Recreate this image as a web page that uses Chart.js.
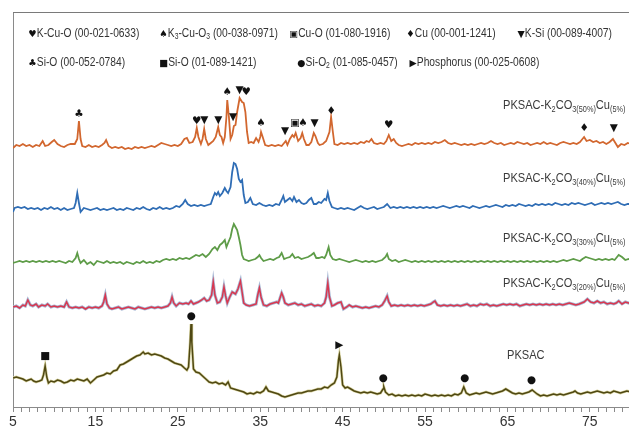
<!DOCTYPE html>
<html>
<head>
<meta charset="utf-8">
<script src="https://cdn.jsdelivr.net/npm/chart.js@4/dist/chart.umd.min.js"></script>
<style>
  html, body { margin: 0; padding: 0; background: #fff; }
  #wrap { position: relative; width: 629px; height: 432px; overflow: hidden; }
  canvas { position: absolute; left: 0; top: 0; }
  .t { position: absolute; white-space: nowrap; font-family: "Liberation Sans Narrow", "Arial Narrow", "Liberation Sans", Arial, sans-serif; color: #333; line-height: 1; transform-origin: 0 50%; transform: scaleX(0.82); }
  .lg { font-size: 12.5px; }
  .sym { font-family: "DejaVu Sans", sans-serif; font-size: 9.5px; color: #111; margin-right: 1px; display: inline-block; transform: scaleX(1.2); }
  .lab { font-size: 13.5px; color: #3a3a3a; }
  .lab sub, .lg sub { font-size: 66%; vertical-align: -0.3em; line-height: 0; }
</style>
</head>
<body>
<div id="wrap">
<canvas id="c" width="629" height="432"></canvas>
</div>
<script>
// ---- Data (2θ in degrees, intensity in arbitrary units incl. vertical offset) ----
const tickLabels = [5, 15, 25, 35, 45, 55, 65, 75];

const seriesNames = [
  "PKSAC-K2CO3(50%)Cu(5%)",
  "PKSAC-K2CO3(40%)Cu(5%)",
  "PKSAC-K2CO3(30%)Cu(5%)",
  "PKSAC-K2CO3(20%)Cu(5%)",
  "PKSAC"
];

const s50X = [5.0,5.4,5.8,6.2,6.6,7.0,7.4,7.8,8.2,8.6,8.9,9.3,9.7,10.0,10.4,10.8,11.2,11.6,12.0,12.5,12.8,13.0,13.2,13.4,13.8,14.2,14.6,15.0,15.4,15.8,16.1,16.3,16.6,17.0,17.4,17.8,18.2,18.6,19.0,19.4,19.8,20.2,20.6,21.0,21.4,21.8,22.2,22.6,23.0,23.4,23.8,24.2,24.6,25.0,25.4,25.8,26.1,26.4,26.8,27.1,27.3,27.5,27.8,28.0,28.2,28.4,28.7,29.0,29.3,29.6,29.9,30.1,30.3,30.5,30.7,30.9,31.0,31.2,31.4,31.6,31.8,32.0,32.2,32.5,32.8,33.0,33.2,33.4,33.6,33.9,34.2,34.5,34.8,35.0,35.1,35.3,35.6,36.0,36.4,36.8,37.2,37.6,37.9,38.1,38.3,38.6,38.9,39.1,39.3,39.6,39.9,40.1,40.3,40.6,40.9,41.2,41.5,41.7,42.0,42.2,42.6,43.0,43.4,43.6,43.8,44.0,44.4,44.8,45.2,45.6,46.0,46.4,46.8,47.2,47.6,47.9,48.2,48.5,48.8,49.2,49.6,50.0,50.3,50.6,50.9,51.2,51.5,51.8,52.2,52.6,53.0,53.4,53.8,54.2,54.6,55.0,55.4,55.8,56.2,56.6,57.0,57.4,57.8,58.2,58.6,59.0,59.4,59.8,60.2,60.6,61.0,61.4,61.8,62.2,62.6,63.0,63.4,63.8,64.2,64.6,65.0,65.4,65.8,66.2,66.6,67.0,67.4,67.8,68.2,68.6,69.0,69.4,69.8,70.2,70.6,71.0,71.4,71.8,72.2,72.6,73.0,73.4,73.8,74.1,74.3,74.6,75.0,75.4,75.8,76.2,76.6,77.0,77.4,77.8,78.1,78.4,78.8,79.2,79.6,80.0];
const s50Y = [259,262,261,263,261,262,260,262,261,266,261,262,265,267,263,261,260,262,263,263,268,286,268,261,260,262,260,261,260,262,264,267,261,259,260,259,260,258,259,258,260,259,260,259,260,261,260,262,264,263,262,261,262,261,263,268,269,264,265,270,279,270,263,268,278,268,262,264,266,270,280,272,270,264,270,290,307,290,268,272,281,282,295,309,305,304,295,275,264,265,264,269,265,270,275,270,262,261,262,261,262,261,264,266,262,268,272,270,274,266,269,274,268,262,262,265,274,271,264,262,263,266,275,290,276,263,262,264,263,264,263,264,263,265,264,266,265,268,264,263,264,263,266,272,266,268,264,262,261,262,263,262,264,263,264,263,264,263,265,264,265,267,264,263,264,263,262,263,262,263,262,263,264,263,264,266,264,263,264,262,263,264,263,265,264,263,264,262,263,264,263,265,263,264,263,262,264,265,264,263,264,263,265,268,270,266,267,265,266,264,265,263,265,268,264,260,263,262,264,263];

const s40X = [5.0,5.2,5.6,6.0,6.4,6.8,7.2,7.6,8.0,8.4,8.8,9.2,9.6,10.0,10.4,10.8,11.2,11.6,12.0,12.4,12.6,12.8,13.0,13.2,13.6,14.0,14.4,14.8,15.2,15.6,16.0,16.4,16.8,17.2,17.6,18.0,18.4,18.8,19.2,19.6,20.0,20.4,20.8,21.2,21.6,22.0,22.4,22.8,23.2,23.6,24.0,24.4,24.8,25.2,25.6,25.9,26.2,26.6,27.0,27.4,27.8,28.2,28.6,29.0,29.3,29.5,29.7,29.9,30.1,30.4,30.7,30.9,31.1,31.4,31.6,31.8,32.0,32.2,32.4,32.6,32.8,33.0,33.2,33.5,33.8,34.1,34.5,34.9,35.3,35.7,36.1,36.5,36.9,37.3,37.6,37.8,38.0,38.3,38.6,38.9,39.1,39.4,39.7,40.0,40.3,40.6,40.9,41.2,41.5,41.8,42.1,42.4,42.8,43.0,43.2,43.4,43.7,44.0,44.4,44.8,45.2,45.6,46.0,46.4,46.8,47.2,47.6,48.0,48.4,48.8,49.2,49.6,50.0,50.4,50.8,51.2,51.6,52.0,52.4,52.8,53.2,53.6,54.0,54.4,54.8,55.2,55.6,56.0,56.4,56.8,57.2,57.6,58.0,58.4,58.8,59.2,59.6,60.0,60.4,60.8,61.2,61.6,62.0,62.4,62.8,63.2,63.6,64.0,64.4,64.8,65.2,65.6,66.0,66.4,66.8,67.2,67.6,68.0,68.4,68.8,69.2,69.6,70.0,70.4,70.8,71.2,71.6,72.0,72.4,72.8,73.2,73.6,74.0,74.4,74.8,75.2,75.6,76.0,76.4,76.8,77.2,77.6,78.0,78.4,78.8,79.2,79.6,80.0];
const s40Y = [195,199,200,199,200,198,199,198,199,197,199,198,200,198,199,197,199,197,198,199,204,214,204,195,199,198,197,198,199,197,198,197,198,199,197,198,197,199,198,197,199,198,200,198,197,199,198,200,198,199,198,199,201,200,203,207,203,201,202,201,202,201,202,203,210,214,212,215,211,214,219,216,214,220,235,244,243,238,228,225,227,212,204,205,209,203,202,204,202,201,202,201,203,202,207,211,205,207,209,206,210,205,207,204,203,204,207,209,203,203,205,204,208,207,214,206,200,199,198,199,198,199,198,197,199,201,199,198,199,200,198,199,200,203,199,200,199,200,199,200,199,200,199,200,199,200,199,200,199,200,201,200,199,200,201,200,201,200,199,201,200,199,200,201,200,201,202,201,200,202,201,202,201,203,202,201,202,201,203,202,203,202,203,202,204,203,202,203,202,204,203,204,203,202,203,204,202,203,204,203,204,203,204,205,203,202,203,203];

const s30X = [5.0,5.4,5.8,6.2,6.6,7.0,7.4,7.8,8.2,8.6,9.0,9.4,9.8,10.2,10.6,11.0,11.4,11.8,12.2,12.6,12.8,13.0,13.2,13.6,14.0,14.4,14.8,15.2,15.6,16.0,16.4,16.8,17.2,17.6,18.0,18.4,18.8,19.2,19.6,20.0,20.4,20.8,21.2,21.6,22.0,22.4,22.8,23.2,23.6,24.0,24.4,24.8,25.2,25.6,26.0,26.4,26.8,27.2,27.6,28.0,28.4,28.8,29.2,29.5,29.8,30.1,30.4,30.7,30.9,31.1,31.4,31.6,31.8,32.0,32.2,32.4,32.6,32.8,33.0,33.3,33.6,34.0,34.4,34.7,34.9,35.1,35.4,35.8,36.2,36.6,37.0,37.3,37.6,37.9,38.2,38.6,38.9,39.2,39.6,40.0,40.4,40.8,41.2,41.5,41.8,42.1,42.5,42.8,43.0,43.3,43.5,43.8,44.2,44.6,45.0,45.4,45.8,46.2,46.6,47.0,47.4,47.8,48.2,48.6,49.0,49.4,49.8,50.2,50.4,50.6,51.0,51.4,51.8,52.2,52.6,53.0,53.4,53.8,54.2,54.6,55.0,55.4,55.8,56.2,56.6,57.0,57.4,57.8,58.2,58.6,59.0,59.4,59.8,60.2,60.6,61.0,61.4,61.8,62.2,62.6,63.0,63.4,63.8,64.2,64.6,65.0,65.4,65.8,66.2,66.6,67.0,67.4,67.8,68.2,68.6,69.0,69.4,69.8,70.2,70.6,71.0,71.4,71.8,72.2,72.6,73.0,73.4,73.8,74.1,74.5,74.9,75.3,75.7,76.1,76.5,76.9,77.3,77.7,78.0,78.2,78.5,78.9,79.3,79.7,80.0];
const s30Y = [144,145,146,145,146,145,146,145,146,145,146,145,146,145,146,145,144,146,145,149,154,148,144,147,143,145,142,146,145,144,146,144,145,144,145,143,145,144,143,145,144,146,144,145,144,146,145,147,148,147,148,147,149,148,149,148,150,152,151,153,150,153,158,160,157,162,164,167,160,164,170,178,183,180,177,170,162,152,148,147,146,147,148,150,152,149,146,147,148,147,149,150,154,148,149,150,153,149,150,148,149,150,152,154,149,149,150,149,152,160,152,148,147,148,147,146,145,146,147,146,145,146,145,146,145,146,147,150,153,148,146,147,145,146,147,146,145,146,145,146,145,146,145,146,145,146,145,146,145,146,145,146,145,146,145,146,145,146,145,146,145,146,145,146,145,146,145,146,145,146,145,146,145,146,145,146,145,146,145,146,145,146,147,146,147,148,147,146,148,150,149,148,147,148,147,148,147,148,147,149,152,150,147,148,147,148,148];

const s20X = [5.0,5.4,5.8,6.2,6.5,6.8,7.1,7.4,7.8,8.1,8.5,8.9,9.2,9.6,10.0,10.4,10.8,11.2,11.5,11.8,12.2,12.6,13.0,13.4,13.8,14.2,14.6,15.0,15.4,15.8,16.0,16.2,16.4,16.7,17.0,17.4,17.8,18.2,18.6,19.0,19.4,19.8,20.2,20.6,21.0,21.4,21.8,22.2,22.6,23.0,23.4,23.8,24.1,24.3,24.5,24.8,25.2,25.6,26.0,26.3,26.6,26.9,27.2,27.5,27.9,28.2,28.5,28.8,29.1,29.3,29.5,29.8,30.1,30.4,30.6,30.8,31.0,31.3,31.6,31.8,32.0,32.3,32.6,32.8,33.0,33.3,33.7,34.1,34.5,34.7,34.9,35.1,35.4,35.8,36.2,36.6,37.0,37.2,37.6,37.8,38.0,38.4,38.8,39.2,39.6,40.0,40.4,40.8,41.2,41.6,42.0,42.4,42.8,43.0,43.2,43.4,43.7,44.0,44.4,44.8,45.1,45.5,45.8,46.2,46.6,47.0,47.4,47.8,48.2,48.6,49.0,49.4,49.8,50.1,50.4,50.6,50.9,51.3,51.7,52.1,52.5,52.9,53.3,53.7,54.1,54.5,54.9,55.3,55.7,56.0,56.2,56.5,56.9,57.3,57.7,58.1,58.5,58.9,59.3,59.7,60.1,60.5,60.9,61.3,61.7,62.1,62.5,62.9,63.3,63.7,64.1,64.5,64.9,65.3,65.7,66.1,66.5,66.9,67.3,67.7,68.1,68.5,68.9,69.3,69.7,70.1,70.5,70.9,71.3,71.7,72.1,72.5,72.9,73.3,73.7,74.0,74.3,74.7,75.1,75.5,75.9,76.3,76.7,77.1,77.5,77.9,78.2,78.5,78.9,79.3,79.7,80.0];
const s20Y = [100,101,99,102,101,107,102,101,103,100,102,101,103,100,101,100,101,100,105,100,99,100,99,100,98,100,99,100,99,101,105,112,103,99,98,99,100,98,99,100,99,98,100,99,98,99,100,99,100,99,100,101,104,110,104,101,104,103,104,103,106,103,104,105,107,109,106,107,112,125,112,104,105,110,120,111,104,110,115,114,113,118,126,115,104,102,101,102,103,112,119,110,102,101,103,104,105,104,114,110,104,102,103,104,102,103,101,102,103,101,102,101,104,110,124,110,101,102,104,105,98,100,102,100,101,100,99,100,99,100,101,100,102,106,111,105,101,102,101,102,101,102,101,102,101,102,101,102,103,105,106,102,101,102,101,102,101,102,101,102,103,101,102,101,103,102,103,101,102,101,102,103,102,103,102,103,101,102,103,102,103,102,103,102,103,102,103,102,103,102,103,104,103,102,103,104,105,108,105,104,106,104,105,103,104,103,104,106,103,105,104,103,104,104];

const pkX = [5.0,5.4,5.8,6.2,6.6,6.9,7.2,7.5,7.8,8.2,8.5,8.7,8.9,9.1,9.3,9.6,10.0,10.4,10.8,11.2,11.6,12.0,12.4,12.8,13.2,13.6,14.0,14.4,14.8,15.2,15.6,16.0,16.4,16.8,17.2,17.6,18.0,18.4,18.8,19.2,19.6,20.0,20.4,20.8,21.0,21.4,21.8,22.2,22.6,23.0,23.4,23.8,24.2,24.6,25.0,25.4,25.8,26.1,26.3,26.5,26.6,26.7,26.9,27.2,27.6,28.0,28.4,28.8,29.2,29.6,30.0,30.4,30.8,31.1,31.4,31.8,32.2,32.6,33.0,33.4,33.8,34.2,34.6,35.0,35.4,35.7,36.0,36.4,36.8,37.2,37.6,38.0,38.4,38.8,39.2,39.6,40.0,40.4,40.8,41.2,41.6,42.0,42.4,42.8,43.2,43.6,44.0,44.3,44.5,44.6,44.8,45.0,45.3,45.6,46.0,46.4,46.8,47.2,47.6,48.0,48.4,48.8,49.2,49.6,49.9,50.0,50.2,50.6,51.0,51.4,51.8,52.2,52.6,53.0,53.4,53.8,54.2,54.6,55.0,55.4,55.8,56.2,56.6,57.0,57.4,57.8,58.2,58.6,59.0,59.4,59.7,60.0,60.4,60.8,61.2,61.6,62.0,62.4,62.8,63.2,63.6,64.0,64.4,64.8,65.2,65.6,66.0,66.4,66.8,67.2,67.6,68.0,68.3,68.6,69.0,69.4,69.8,70.2,70.6,71.0,71.4,71.8,72.2,72.6,73.0,73.2,73.5,73.9,74.3,74.7,75.1,75.5,75.9,76.3,76.7,77.1,77.5,77.9,78.3,78.7,79.1,79.5,80.0];
const pkY = [29,30,29,28,26,27,28,26,25,26,27,32,41,30,24,26,25,27,26,24,25,27,26,28,27,26,28,24,27,30,31,32,34,33,36,37,42,43,45,47,49,51,52,55,53,54,52,53,52,51,49,48,46,44,43,42,39,37,40,65,83,65,38,35,34,31,28,25,24,25,23,24,22,25,19,18,17,16,15,13,14,13,15,14,16,20,16,15,14,13,11,10,11,12,13,14,14,15,16,16,17,18,18,20,19,22,24,30,47,52,40,22,19,20,18,16,15,14,15,14,15,14,13,14,18,20,15,12,13,11,12,11,12,11,12,11,12,11,13,12,11,12,11,12,11,12,11,13,12,14,20,14,12,13,14,13,14,15,14,13,14,15,16,18,16,14,13,14,13,14,15,17,15,13,11,12,11,12,13,12,13,12,13,14,15,16,14,13,14,15,14,15,16,15,14,15,14,16,15,14,15,16,15];

// phase markers above peaks: symbol, 2θ, height
const markerSym = ["♣","♥","▼","▼","♠","▼","▼","♥","♠","▼","▣","♠","▼","♦","♥","♦","▼","■","●","▶","●","●","●"];
const markerX   = [13.0,27.3,28.2,29.9,31.0,31.7,32.5,33.3,35.1,38.0,39.2,40.2,41.6,43.6,50.6,74.3,77.9,8.9,26.6,44.6,49.9,59.8,67.9];
const markerY   = [293,286,287,287,315,290,317,315,284,276,284,284,284,296,282,279,279,51,91,62,29,29,27];

// legend entries
const legendSym  = ["♥","♠","▣","♦","▼","♣","■","●","▶"];
const legendText = ["K-Cu-O (00-021-0633)","K<sub>3</sub>-Cu-O<sub>3</sub> (00-038-0971)","Cu-O (01-080-1916)","Cu (00-001-1241)","K-Si (00-089-4007)","Si-O (00-052-0784)","Si-O (01-089-1421)","Si-O<sub>2</sub> (01-085-0457)","Phosphorus (00-025-0608)"];

// ---- build ----
const pts = (xs, ys) => xs.map((x, i) => ({ x: x, y: ys[i] }));
function ds(xs, ys, color, w, order) {
  return { data: pts(xs, ys), borderColor: color, borderWidth: w, pointRadius: 0, tension: 0, fill: false, order: order };
}

const markerPlugin = {
  id: 'markers',
  afterDatasetsDraw(chart) {
    const { ctx, scales: { x, y }, chartArea } = chart;
    ctx.save();
    // top frame line
    ctx.strokeStyle = '#7a7a7a';
    ctx.lineWidth = 1;
    ctx.beginPath();
    ctx.moveTo(chartArea.left, chartArea.top + 0.5);
    ctx.lineTo(chartArea.right, chartArea.top + 0.5);
    ctx.stroke();
    ctx.fillStyle = '#111';
    ctx.textAlign = 'center';
    ctx.textBaseline = 'middle';
    ctx.font = '10.5px "DejaVu Sans"';
    markerSym.forEach((s, i) => {
      ctx.fillText(s, x.getPixelForValue(markerX[i]), y.getPixelForValue(markerY[i]));
    });
    ctx.restore();
  }
};

new Chart(document.getElementById('c'), {
  type: 'line',
  data: {
    datasets: [
      ds(s50X, s50Y, '#d2672f', 1.8, 1),
      ds(s40X, s40Y, '#2f6db5', 1.8, 1),
      ds(s30X, s30Y, '#5e9c48', 1.8, 1),
      ds(s20X, s20Y, '#a7b8d4', 3.0, 2),
      ds(s20X, s20Y, '#d9374f', 1.5, 1),
      ds(pkX, pkY, '#d8d3a0', 2.8, 2),
      ds(pkX, pkY, '#4f4813', 1.5, 1)
    ]
  },
  options: {
    responsive: false,
    animation: false,
    events: [],
    layout: { padding: { top: 12, right: 0, left: 0, bottom: 0 } },
    plugins: { legend: { display: false }, tooltip: { enabled: false }, title: { display: false } },
    scales: {
      x: {
        type: 'linear', min: 5, max: 79.75,
        afterFit: s => { s.height = 25; },
        afterBuildTicks: s => { const t = []; for (let v = 5; v <= 79; v++) t.push({ value: v }); s.ticks = t; },
        ticks: {
          autoSkip: false, maxRotation: 0, padding: 2,
          color: '#333',
          font: { family: '"Liberation Sans Narrow", "Arial Narrow", "Liberation Sans", sans-serif', size: 14 },
          callback: v => (tickLabels.includes(v) ? String(v) : '')
        },
        grid: { drawOnChartArea: false, drawTicks: true, tickLength: 5, color: '#8a8a8a' },
        border: { color: '#8a8a8a', width: 1 }
      },
      y: {
        min: 0, max: 395,
        afterFit: s => { s.width = 13; },
        ticks: { display: false },
        grid: { drawOnChartArea: false, drawTicks: false },
        border: { color: '#8a8a8a', width: 1 }
      }
    }
  },
  plugins: [markerPlugin]
});

// ---- HTML text: legend and series labels ----
const wrap = document.getElementById('wrap');
const legendPos = [[29,27],[160,27],[290,27],[407,27],[518,27],[29,56],[160,56],[298,56],[410,56]];
legendText.forEach((t, i) => {
  const d = document.createElement('div');
  d.className = 't lg';
  d.style.left = legendPos[i][0] + 'px';
  d.style.top = legendPos[i][1] + 'px';
  d.innerHTML = '<span class="sym">' + legendSym[i] + '</span>' + t;
  wrap.appendChild(d);
});
const labelHTML = [
  'PKSAC-K<sub>2</sub>CO<sub>3(50%)</sub>Cu<sub>(5%)</sub>',
  'PKSAC-K<sub>2</sub>CO<sub>3(40%)</sub>Cu<sub>(5%)</sub>',
  'PKSAC-K<sub>2</sub>CO<sub>3(30%)</sub>Cu<sub>(5%)</sub>',
  'PKSAC-K<sub>2</sub>CO<sub>3(20%)</sub>Cu<sub>(5%)</sub>',
  'PKSAC'
];
const labelPos = [[503,98],[503,171],[503,231],[503,276],[507,348]];
labelHTML.forEach((t, i) => {
  const d = document.createElement('div');
  d.className = 't lab';
  d.title = seriesNames[i];
  d.style.left = labelPos[i][0] + 'px';
  d.style.top = labelPos[i][1] + 'px';
  d.innerHTML = t;
  wrap.appendChild(d);
});
</script>
</body>
</html>
